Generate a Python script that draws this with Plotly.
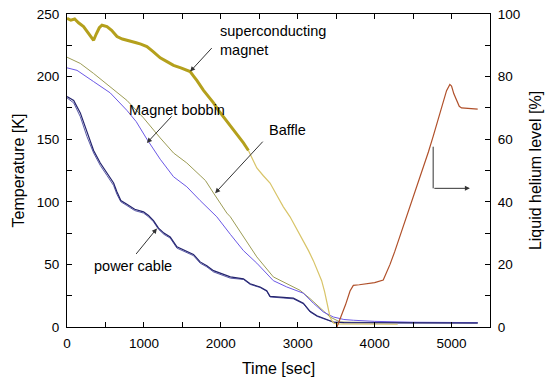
import plotly.graph_objects as go

# ---- data ----
sc_thick_t = [0, 50, 100, 150, 215, 260, 300, 346, 380, 420, 455, 520, 580, 650, 720, 822, 900, 960,
              1039, 1120, 1212, 1300, 1385, 1480, 1550, 1601, 1650, 1688, 1775, 1840, 1905, 1970, 2034,
              2100, 2164, 2230, 2294, 2359]
sc_thick_T = [246.5, 245, 246, 243, 240, 236, 233, 229, 234, 239, 241, 240, 237, 232, 230, 228, 227, 226,
              224, 220, 215, 212, 209, 207, 205, 204, 200, 197, 189, 184, 179, 173, 168,
              162, 157, 152, 147, 141]

sc_thin_t = [2359, 2420, 2468, 2550, 2640, 2730, 2813, 2900, 3000, 3073, 3140, 3203, 3260, 3311, 3350,
             3377, 3400, 3420, 3445, 3470, 3520, 3800, 4300]
sc_thin_T = [141, 133, 127, 121, 115, 105, 96, 88, 77, 69, 61, 53, 45, 37, 28,
             21, 14, 8, 5, 3, 2.5, 2.3, 2.2]

baffle_t = [0, 173, 346, 562, 779, 995, 1100, 1212, 1385, 1558, 1731, 1800, 1905, 2078, 2124, 2294,
            2468, 2683, 2857, 3030, 3160, 3333, 3420, 3550, 3700, 4500, 5340]
baffle_T = [215.5, 210.5, 202.5, 192, 181, 167, 159, 151, 139, 131, 121, 117, 107, 91, 88, 72,
            56, 40, 34.7, 29.3, 22.7, 13.3, 8, 4, 3.8, 3.5, 3.4]

bobbin_t = [0, 130, 346, 562, 779, 900, 1039, 1212, 1385, 1558, 1731, 1948, 2124, 2294, 2468, 2683,
            2857, 3073, 3203, 3333, 3463, 3600, 3723, 4000, 4500, 5340]
bobbin_T = [207, 205, 196, 187, 173, 164, 150, 134, 120, 112, 101, 88, 74, 61, 51, 37,
            32, 27, 19, 12, 8, 6, 5.4, 4.5, 3.8, 3.5]

cable_t = [0, 87, 173, 260, 346, 433, 520, 606, 649, 700, 779, 880, 995, 1060, 1125, 1190, 1260, 1342,
           1429, 1530, 1644, 1731, 1818, 1905, 1991, 2124, 2294, 2381, 2511, 2597, 2640, 2770, 2943,
           3073, 3160, 3250, 3333, 3463, 3600, 4500, 5340]
cable_a_T = [184, 181, 171, 155, 141, 131, 123, 115, 108, 101, 98, 94, 92, 89, 85, 79, 75, 72,
             64, 61, 58, 52, 49, 45, 43, 40, 38.5, 34.5, 32, 29, 24.5, 24, 23,
             19, 12.5, 9, 7, 4, 3.5, 3.3, 3.2]
cable_b_T = [183, 179, 168, 152, 139, 129, 121, 113, 106, 100, 97, 93, 91, 88, 84, 78, 74, 71,
             63, 60, 57, 51, 48, 44, 42, 39, 38, 34, 31.5, 28.5, 24, 23.5, 22.5,
             18.5, 12, 8.5, 6.5, 3.8, 3.4, 3.2, 3.1]

he_t = [3510, 3560, 3620, 3680, 3700, 3723, 3800, 3900, 3940, 4000, 4112, 4150, 4200, 4260, 4330, 4400,
        4500, 4600, 4700, 4762, 4850, 4935, 4978, 5000, 5030, 5065, 5100, 5130, 5200, 5340]
he_level = [0, 3, 7, 11.5, 12.5, 13.3, 13.5, 13.8, 14, 14.2, 15, 17, 20, 24, 29, 34,
            41, 48.5, 56, 61, 68, 75.5, 77.5, 77, 74.5, 72.5, 70.5, 70, 69.8, 69.6]

x_ticks = [0, 1000, 2000, 3000, 4000, 5000]
y_ticks = [0, 50, 100, 150, 200, 250]
y2_ticks = [0, 20, 40, 60, 80, 100]

FONT = "Liberation Sans, Arial, sans-serif"

fig = go.Figure()

def line(x, y, color, width, yaxis="y"):
    fig.add_trace(go.Scatter(x=x, y=y, mode="lines", yaxis=yaxis,
                             line=dict(color=color, width=width), showlegend=False,
                             hoverinfo="skip"))

line(baffle_t, baffle_T, "#9c9c55", 1)
line(bobbin_t, bobbin_T, "#6b58e6", 1)
line(cable_t, cable_b_T, "#5a5aa8", 1)
line(cable_t, cable_a_T, "#24246e", 1.2)
line(sc_thin_t, sc_thin_T, "#d8c468", 1.2)
line(sc_thick_t, sc_thick_T, "#b4a01c", 3)
line(he_t, he_level, "#b0502a", 1.2, yaxis="y2")

ax_common = dict(showline=True, linecolor="black", linewidth=1, showgrid=False, zeroline=False,
                 ticks="inside", ticklen=5, tickwidth=1, tickcolor="black", automargin=False,
                 tickfont=dict(family=FONT, size=13.5, color="black"))

fig.update_layout(
    width=550, height=385,
    margin=dict(l=67, r=60, t=14, b=58),
    paper_bgcolor="white", plot_bgcolor="white",
    font=dict(family=FONT, color="black"),
    xaxis=dict(range=[0, 5500], tickvals=x_ticks, mirror="ticks",
               minor=dict(dtick=500, tick0=0, ticks="inside", ticklen=5, tickcolor="black"),
               title=dict(text="Time [sec]", font=dict(family=FONT, size=16), standoff=12),
               ticklabelstandoff=4, **ax_common),
    yaxis=dict(range=[0, 250], tickvals=y_ticks,
               minor=dict(dtick=25, tick0=0, ticks="inside", ticklen=5, tickcolor="black"),
               title=dict(text="Temperature [K]", font=dict(family=FONT, size=16), standoff=8),
               ticklabelstandoff=4, **ax_common),
    yaxis2=dict(range=[0, 100], tickvals=y2_ticks, overlaying="y", side="right",
                minor=dict(dtick=10, tick0=0, ticks="inside", ticklen=5, tickcolor="black"),
                title=dict(text="Liquid helium level [%]", font=dict(family=FONT, size=16), standoff=10),
                ticklabelstandoff=4, **ax_common),
)

ann_font = dict(family=FONT, size=14.5, color="black")

def label(text, x, y, yref="y"):
    fig.add_annotation(x=x, y=y, xref="x", yref=yref, text=text, showarrow=False,
                       xanchor="left", yanchor="middle", align="left", font=ann_font)

def arrow(x, y, ax, ay, yref="y"):
    fig.add_annotation(x=x, y=y, xref="x", yref=yref, ax=ax, ay=ay, text="",
                       showarrow=True, arrowhead=2, arrowsize=1, arrowwidth=1,
                       arrowcolor="#333333", standoff=0)

# superconducting magnet
label("superconducting<br>magnet", 1966, 228.5)
arrow(1601, 204, 23, -25)
# Magnet bobbin
label("Magnet bobbin", 783, 173.3)
arrow(1039, 147, 26, -28)
# Baffle
label("Baffle", 2601, 157.2)
arrow(1926, 106.9, 49, -53)
# power cable
label("power cable", 329, 48.5)
arrow(1169, 78.7, -22, 27)

# right-pointing L-arrow for helium level axis
fig.add_shape(type="line", xref="x", yref="y2", x0=4761, x1=4761, y0=57.6, y1=44.3,
              line=dict(color="#333333", width=1))
arrow(5238, 44.3, -37, 0, yref="y2")

fig.write_html("out.html",
               config={"displayModeBar": False, "staticPlot": True},
               post_script="document.body.style.margin='0px';document.body.style.overflow='hidden';")
